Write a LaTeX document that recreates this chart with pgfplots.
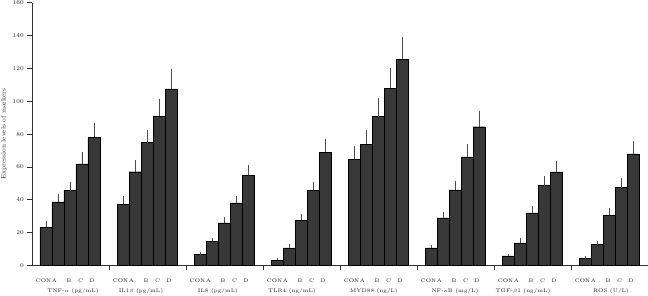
\documentclass[border=0pt]{standalone}
\usepackage{pgfplots}
\pgfplotsset{compat=1.18}
\usepackage{pgfplotstable}
\definecolor{barfill}{HTML}{383838}
\definecolor{txt}{HTML}{222222}
\pgfplotstableread{
x y e
14 23.2 2.8
26 38.7 4.0
38 45.6 4.4
50 61.8 6.5
62 78.0 8.0
91 37.2 4.3
103 57.1 6.5
115 74.8 7.1
127 91.0 9.3
139 107.6 11.4
168 6.8 0.6
180 14.7 1.0
192 26.0 2.7
204 38.2 3.3
216 54.9 5.7
245 3.3 0.7
257 10.8 1.5
269 27.7 2.9
281 45.8 4.2
293 69.1 7.0
322 64.8 7.2
334 73.8 8.1
346 90.6 10.6
358 107.9 11.4
370 125.7 12.6
399 10.8 0.8
411 29.0 2.8
423 46.0 4.4
435 66.2 6.8
447 84.5 8.5
476 5.8 0.5
488 13.7 2.0
500 32.0 3.6
512 48.6 5.1
524 57.0 6.0
553 4.4 0.5
565 12.7 1.3
577 30.5 3.5
589 47.4 5.1
601 67.9 6.9
}\datatable
\begin{document}
\begin{tikzpicture}
\useasboundingbox (-32bp,-30.5bp) rectangle (616bp,265.5bp);
\begin{axis}[
  scale only axis,
  width=616bp, height=262.8bp,
  xmin=0, xmax=616, ymin=0, ymax=160,
  clip=false,
  axis x line*=bottom, axis y line*=left,
  axis line style={-, line width=0.6bp, color=black!80},
  ytick={0,20,...,160},
  tick align=outside,
  major tick length=4.8bp,
  tick style={line width=0.6bp, color=black!80},
  yticklabel style={font=\fontsize{6.5}{7}\selectfont, text=txt},
  xtick={77,154,231,308,385,462,539},
  xticklabels={},
  extra x ticks={11.5,22.5,37,48.5,60, 88.5,99.5,114,125.5,137, 165.5,176.5,191,202.5,214, 242.5,253.5,268,279.5,291, 319.5,330.5,345,356.5,368, 396.5,407.5,422,433.5,445, 473.5,484.5,499,510.5,522, 550.5,561.5,576,587.5,599},
  extra x tick labels={CON,A,B,C,D,CON,A,B,C,D,CON,A,B,C,D,CON,A,B,C,D,CON,A,B,C,D,CON,A,B,C,D,CON,A,B,C,D,CON,A,B,C,D},
  extra x tick style={major tick length=0pt, xticklabel style={font=\fontsize{5.2}{6}\selectfont, text=txt, anchor=base, yshift=-16.5bp}},
  ylabel={Expression levels of markers},
  ylabel style={at={(axis description cs:-0.0455,0.5)}, anchor=center, font=\fontsize{6.5}{7}\selectfont, text=txt},
]
\addplot[ybar, bar width=12, bar shift=0pt, fill=barfill, draw=black, line width=0.4bp,
  error bars/.cd, y dir=plus, y explicit,
  error bar style={line width=0.55bp, color=black!70},
  error mark options={mark size=1.3bp, line width=0.55bp, color=black!70}]
  table[x=x, y=y, y error=e]{\datatable};
\node[font=\fontsize{5.3}{6}\selectfont, text=txt, anchor=base] at (axis cs:41,0) [yshift=-27bp] {TNF-$\alpha$ (pg/mL)};
\node[font=\fontsize{5.3}{6}\selectfont, text=txt, anchor=base] at (axis cs:109,0) [yshift=-27bp] {IL1$\beta$ (pg/mL)};
\node[font=\fontsize{5.3}{6}\selectfont, text=txt, anchor=base] at (axis cs:186,0) [yshift=-27bp] {IL8 (pg/mL)};
\node[font=\fontsize{5.3}{6}\selectfont, text=txt, anchor=base] at (axis cs:260,0) [yshift=-27bp] {TLR4 (ng/mL)};
\node[font=\fontsize{5.3}{6}\selectfont, text=txt, anchor=base] at (axis cs:342,0) [yshift=-27bp] {MYD88 (ng/L)};
\node[font=\fontsize{5.3}{6}\selectfont, text=txt, anchor=base] at (axis cs:423,0) [yshift=-27bp] {NF-$\kappa$B (mg/L)};
\node[font=\fontsize{5.3}{6}\selectfont, text=txt, anchor=base] at (axis cs:491,0) [yshift=-27bp] {TGF-$\beta$1 (ng/mL)};
\node[font=\fontsize{5.3}{6}\selectfont, text=txt, anchor=base] at (axis cs:579,0) [yshift=-27bp] {ROS (U/L)};
\end{axis}
\end{tikzpicture}
\end{document}
